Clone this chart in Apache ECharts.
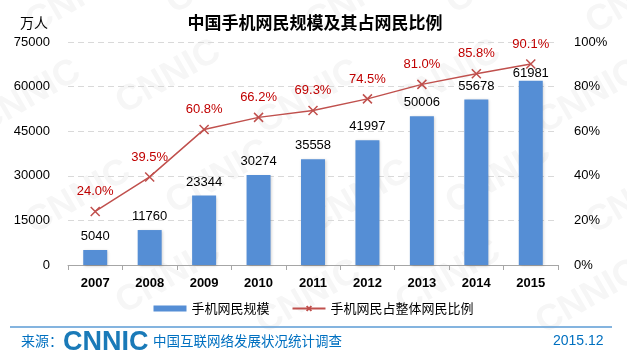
<!DOCTYPE html>
<html><head><meta charset="utf-8">
<script src="https://cdn.jsdelivr.net/npm/echarts@6/dist/echarts.min.js"></script>
<style>html,body{margin:0;padding:0;background:#fff}#c{width:627px;height:362px}</style>
</head><body><div id="c"></div>
<script>
const categories = ['2007','2008','2009','2010','2011','2012','2013','2014','2015'];
const users = [5040, 11760, 23344, 30274, 35558, 41997, 50006, 55678, 61981];
const ratio = [24.0, 39.5, 60.8, 66.2, 69.3, 74.5, 81.0, 85.8, 90.1];
const leftTicks = [0, 15000, 30000, 45000, 60000, 75000];
const rightTicks = ['0%','20%','40%','60%','80%','100%'];

const font = '"Liberation Sans", "Noto Sans CJK SC", sans-serif';
const chart = echarts.init(document.getElementById('c'), null, {renderer:'canvas'});

const wm = [];
const wmPos = [[20,10],[160,-10],[300,10],[440,-10],[580,10],[-30,110],[110,90],[250,110],[390,90],[530,110],[20,210],[160,190],[300,210],[440,190],[580,210],[110,290],[250,310],[390,290],[530,310]];
wmPos.forEach(p => wm.push({type:'text', x:p[0], y:p[1], rotation:Math.PI/6, silent:true, z:-10,
  style:{text:'CNNIC', fill:'#f6f6f6', font:'bold 36px "Liberation Sans", sans-serif'}}));

const barData = users.map((v, i) => i === users.length - 1 ? {value:v, label:{distance:1}} : v);

chart.setOption({
  animation:false,
  textStyle:{fontFamily:font},
  title:{text:'中国手机网民规模及其占网民比例', left:310, textAlign:'center', top:9,
    textStyle:{fontSize:17, fontWeight:'bold', color:'#000', fontFamily:'"Noto Sans CJK SC", sans-serif'}},
  grid:{left:68, right:69, top:42, bottom:97},
  legend:{bottom:42, left:'center', itemGap:22, itemWidth:33, itemHeight:6,
    textStyle:{fontSize:13, color:'#000', fontFamily:'"Noto Sans CJK SC", sans-serif'},
    data:[{name:'手机网民规模', icon:'rect'}, {name:'手机网民占整体网民比例'}]},
  xAxis:{type:'category', data:categories,
    axisLine:{lineStyle:{color:'#a6a6a6'}}, axisTick:{show:true, alignWithLabel:false, length:5, lineStyle:{color:'#a6a6a6'}},
    axisLabel:{color:'#000', fontSize:13, margin:12, fontWeight:'bold'}},
  yAxis:[
    {type:'value', min:0, max:75000, interval:15000, name:'万人', nameLocation:'end', nameGap:12,
      nameTextStyle:{color:'#000', fontSize:14, align:'right', padding:[0,20,0,0], fontFamily:'"Noto Sans CJK SC", sans-serif'},
      axisLine:{show:false}, axisTick:{show:false},
      axisLabel:{color:'#000', fontSize:13, margin:18, formatter:v=>String(v)},
      splitLine:{lineStyle:{color:'#d9d9d9', type:[6,4]}}},
    {type:'value', min:0, max:100, interval:20, position:'right',
      axisLine:{show:false}, axisTick:{show:false},
      axisLabel:{color:'#000', fontSize:13, margin:16, formatter:v=>rightTicks[v/20]},
      splitLine:{show:false}}
  ],
  series:[
    {name:'手机网民规模', type:'bar', data:barData, barWidth:24, itemStyle:{color:'#558ed5', shadowColor:'rgba(0,0,0,0.2)', shadowBlur:3, shadowOffsetX:1, shadowOffsetY:1},
      label:{show:true, position:'top', distance:7, color:'#000', fontSize:13}},
    {name:'手机网民占整体网民比例', type:'line', yAxisIndex:1, data:ratio, symbol:'path://M0,0L10,10M10,0L0,10',
      symbolSize:9, z:3, lineStyle:{color:'#c0504d', width:1.5}, itemStyle:{color:'#c0504d', borderColor:'#c0504d', borderWidth:1.5},
      label:{show:true, position:'top', distance:8, color:'#c00000', fontSize:13, formatter:p=>p.value.toFixed(1)+'%'}}
  ],
  graphic:wm.concat([
    {type:'line', shape:{x1:10, y1:327, x2:612, y2:327}, style:{stroke:'#5b9bd5', lineWidth:1.5}},
    {type:'text', x:21, y:334, style:{text:'来源：', fill:'#0070c0', font:'14px "Noto Sans CJK SC", sans-serif'}},
    {type:'text', x:63, y:329, style:{text:'CNNIC', fill:'#1a7ab8', font:'bold 27px "Liberation Sans", sans-serif'}},
    {type:'text', x:153, y:334, style:{text:'中国互联网络发展状况统计调查', fill:'#0070c0', font:'13.5px "Noto Sans CJK SC", sans-serif'}},
    {type:'text', x:553, y:334, style:{text:'2015.12', fill:'#0070c0', font:'14px "Liberation Sans", sans-serif'}}
  ])
});
</script></body></html>
